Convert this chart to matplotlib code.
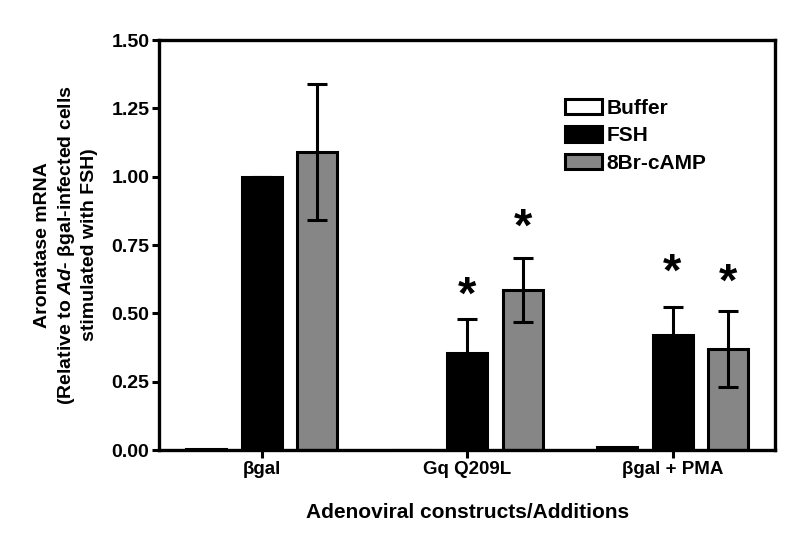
import numpy as np
import matplotlib.pyplot as plt
from matplotlib.patches import Patch

plt.rcParams['font.family'] = ['Liberation Sans', 'DejaVu Sans']
plt.rcParams['font.weight'] = 'bold'
plt.rcParams['mathtext.fontset'] = 'custom'
plt.rcParams['mathtext.rm'] = 'Liberation Sans:bold'
plt.rcParams['mathtext.it'] = 'Liberation Sans:bold:italic'

groups = ['\u03b2gal', 'Gq Q209L', '\u03b2gal + PMA']
series = ['Buffer', 'FSH', '8Br-cAMP']
buffer_vals = [0.005, 0.002, 0.01]
fsh_vals = [1.00, 0.355, 0.42]
fsh_err = [0.0, 0.123, 0.105]
camp_vals = [1.09, 0.585, 0.37]
camp_err = [0.25, 0.118, 0.14]
# asterisk text anchors (significance marks)
stars_fsh = [None, 0.56, 0.645]
stars_camp = [None, 0.81, 0.607]

fig = plt.figure(figsize=(8, 5.41), dpi=100)
ax = fig.add_axes([0.199, 0.168, 0.770, 0.758])

x = np.arange(len(groups))
off = 0.27
w = 0.195
lw = 2.2

ax.bar(x - off, buffer_vals, w, color='white', edgecolor='black', linewidth=lw, label=series[0])
ax.bar(x, fsh_vals, w, color='black', edgecolor='black', linewidth=lw, label=series[1])
ax.bar(x + off, camp_vals, w, color='#868686', edgecolor='black', linewidth=lw, label=series[2])

ax.errorbar(x, fsh_vals, yerr=fsh_err, fmt='none', ecolor='black', elinewidth=2.2,
            capsize=7.5, capthick=2.2)
ax.errorbar(x + off, camp_vals, yerr=camp_err, fmt='none', ecolor='black', elinewidth=2.2,
            capsize=7.5, capthick=2.2)

for i in range(len(groups)):
    if stars_fsh[i] is not None:
        ax.text(x[i], stars_fsh[i], '*', ha='center', va='center', fontsize=34, fontweight='bold')
    if stars_camp[i] is not None:
        ax.text(x[i] + off, stars_camp[i], '*', ha='center', va='center', fontsize=34, fontweight='bold')

ax.set_xlim(-0.5, 2.5)
ax.set_ylim(0, 1.5)
ax.set_yticks([0, 0.25, 0.5, 0.75, 1.0, 1.25, 1.5])
ax.set_yticklabels(['0.00', '0.25', '0.50', '0.75', '1.00', '1.25', '1.50'])
ax.set_xticks(x)
ax.set_xticklabels(groups)
ax.tick_params(axis='both', width=2.2, length=5, direction='out')
ax.tick_params(axis='y', labelsize=14, pad=2)
ax.tick_params(axis='x', labelsize=13.5, length=6, pad=2)
for s in ax.spines.values():
    s.set_linewidth(2.4)

ax.set_ylabel('Aromatase mRNA\n(Relative to $Ad$- \u03b2gal-infected cells\nstimulated with FSH)',
              fontsize=14, fontweight='bold', labelpad=10, linespacing=1.3)
ax.set_xlabel('Adenoviral constructs/Additions', fontsize=15, fontweight='bold', labelpad=18)

handles = [Patch(facecolor='white', edgecolor='black', linewidth=2.2),
           Patch(facecolor='black', edgecolor='black', linewidth=2.2),
           Patch(facecolor='#868686', edgecolor='black', linewidth=2.2)]
ax.legend(handles, series, loc='upper left', bbox_to_anchor=(0.629, 0.902), frameon=False,
          handlelength=1.78, handleheight=0.75, handletextpad=0.2, labelspacing=0.4,
          prop={'weight': 'bold', 'size': 15})

fig.savefig('out.png', dpi=100)
